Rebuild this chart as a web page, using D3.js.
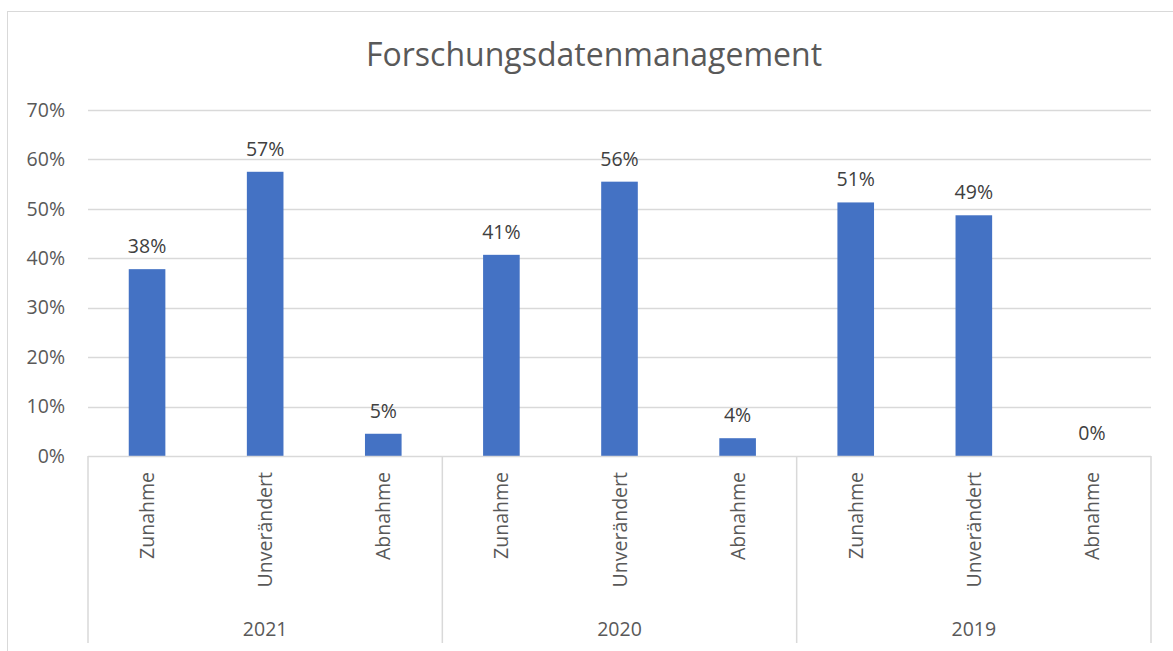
<!DOCTYPE html>
<html>
<head>
<meta charset="UTF-8">
<title>Forschungsdatenmanagement</title>
<script src="https://d3js.org/d3.v7.min.js"></script>
<style>
  body { margin: 0; background: #fff; }
  text { font-family: "Open Sans", "Noto Sans", sans-serif; }
</style>
</head>
<body>
<svg id="chart" width="1173" height="651"></svg>
<script>
// data
var years = ["2021", "2020", "2019"];
var categories = ["Zunahme", "Unverändert", "Abnahme"];
var values2021 = [0.378, 0.575, 0.045];
var values2020 = [0.407, 0.555, 0.036];
var values2019 = [0.513, 0.487, 0.0];
var labels2021 = ["38%", "57%", "5%"];
var labels2020 = ["41%", "56%", "4%"];
var labels2019 = ["51%", "49%", "0%"];
var yTicks = [0, 0.1, 0.2, 0.3, 0.4, 0.5, 0.6, 0.7];

var seriesValues = [values2021, values2020, values2019];
var seriesLabels = [labels2021, labels2020, labels2019];
var rows = [];
years.forEach(function (yr, i) {
  categories.forEach(function (c, j) {
    rows.push({ year: yr, cat: c, value: seriesValues[i][j], label: seriesLabels[i][j] });
  });
});

var svg = d3.select("#chart");
var plotLeft = 88, plotRight = 1151, plotTop = 110, plotBottom = 456;
var fs = 19.5;

// chart frame
svg.append("rect")
  .attr("x", 7.5).attr("y", 11.5)
  .attr("width", 1200).attr("height", 700)
  .attr("fill", "none").attr("stroke", "#d9d9d9");

svg.append("text")
  .attr("x", 594).attr("y", 66)
  .attr("text-anchor", "middle")
  .attr("font-size", 32)
  .attr("fill", "#595959")
  .text("Forschungsdatenmanagement");

var x0 = d3.scaleBand().domain(years).range([plotLeft, plotRight]);
var x1 = d3.scaleBand().domain(categories).range([0, x0.bandwidth()]).paddingInner(0.69).paddingOuter(0.345);
var y = d3.scaleLinear().domain([0, 0.7]).range([plotBottom, plotTop]);

// gridlines
svg.append("g")
  .selectAll("line")
  .data(yTicks.slice(1))
  .join("line")
  .attr("x1", plotLeft).attr("x2", plotRight)
  .attr("y1", function (d) { return Math.round(y(d)) + 0.5; })
  .attr("y2", function (d) { return Math.round(y(d)) + 0.5; })
  .attr("stroke", "#d9d9d9").attr("stroke-width", 1.3);

// y axis labels
var yAxis = svg.append("g")
  .attr("transform", "translate(" + plotLeft + ",0)")
  .call(d3.axisLeft(y).tickValues(yTicks).tickFormat(d3.format(".0%")).tickSize(0).tickPadding(23));
yAxis.select(".domain").remove();
yAxis.selectAll("text")
  .attr("font-family", "'Open Sans', sans-serif")
  .attr("font-size", fs).attr("fill", "#595959");

// bars
svg.append("g")
  .selectAll("rect")
  .data(rows)
  .join("rect")
  .attr("x", function (d) { return x0(d.year) + x1(d.cat); })
  .attr("width", x1.bandwidth())
  .attr("y", function (d) { return y(d.value); })
  .attr("height", function (d) { return y(0) - y(d.value); })
  .attr("fill", "#4472c4");

// data labels
svg.append("g")
  .selectAll("text")
  .data(rows)
  .join("text")
  .attr("x", function (d) { return x0(d.year) + x1(d.cat) + x1.bandwidth() / 2; })
  .attr("y", function (d) { return y(d.value) - 16; })
  .attr("text-anchor", "middle")
  .attr("font-size", fs).attr("fill", "#404040")
  .text(function (d) { return d.label; });

// x axis line and group separators
svg.append("line")
  .attr("x1", plotLeft).attr("x2", plotRight)
  .attr("y1", plotBottom + 0.5).attr("y2", plotBottom + 0.5)
  .attr("stroke", "#d9d9d9").attr("stroke-width", 1.5);

var seps = years.map(function (yr) { return x0(yr); }).concat([plotRight]);
svg.append("g")
  .selectAll("line")
  .data(seps)
  .join("line")
  .attr("x1", function (d) { return d; }).attr("x2", function (d) { return d; })
  .attr("y1", plotBottom).attr("y2", 643)
  .attr("stroke", "#d9d9d9").attr("stroke-width", 1.5);

// category labels (rotated)
svg.append("g")
  .selectAll("text")
  .data(rows)
  .join("text")
  .attr("transform", function (d) {
    var cx = x0(d.year) + x1(d.cat) + x1.bandwidth() / 2;
    return "translate(" + (cx + 7) + "," + 472 + ") rotate(-90)";
  })
  .attr("text-anchor", "end")
  .attr("font-size", fs).attr("fill", "#595959")
  .text(function (d) { return d.cat; });

// year labels
svg.append("g")
  .selectAll("text")
  .data(years)
  .join("text")
  .attr("x", function (d) { return x0(d) + x0.bandwidth() / 2; })
  .attr("y", 636)
  .attr("text-anchor", "middle")
  .attr("font-size", fs).attr("fill", "#595959")
  .text(function (d) { return d; });
</script>
</body>
</html>
